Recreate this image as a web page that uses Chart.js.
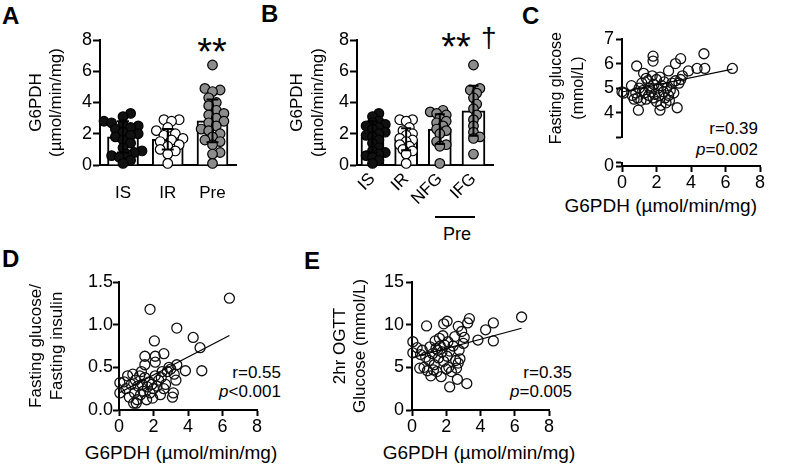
<!DOCTYPE html>
<html>
<head>
<meta charset="utf-8">
<script src="https://cdn.jsdelivr.net/npm/chart.js@4.4.1/dist/chart.umd.min.js"></script>
<style>
  html, body { margin: 0; padding: 0; background: #fff; }
  #fig { position: relative; width: 787px; height: 472px; overflow: hidden;
         font-family: 'Liberation Sans', Arial, Helvetica, sans-serif; color: #000; }
  #fig canvas { position: absolute; }
  .t { position: absolute; white-space: nowrap; line-height: 1; }
  .lbl { font-weight: bold; font-size: 24px; }
  .st { font-size: 17px; text-align: right; }
  .xt { font-size: 19px; }
</style>
</head>
<body>
<div id="fig">
  <div class="t lbl" style="left:2px;top:4px">A</div>
  <div class="t lbl" style="left:261px;top:2px">B</div>
  <div class="t lbl" style="left:522px;top:4px">C</div>
  <div class="t lbl" style="left:2px;top:247px">D</div>
  <div class="t lbl" style="left:304px;top:249px">E</div>

  <div class="t" style="left:180px;width:64px;text-align:center;top:33px;font-size:38px">**</div>
  <div class="t" style="left:424px;width:64px;text-align:center;top:28px;font-size:38px">**</div>
  <div class="t" style="left:481px;top:24px;font-size:28px">†</div>
  <div style="position:absolute;left:435px;top:216px;width:40px;height:2px;background:#000"></div>
  <div class="t" style="left:427px;width:60px;text-align:center;top:225px;font-size:18px">Pre</div>

  <div class="t st" style="right:29px;top:120px">r=0.39</div>
  <div class="t st" style="right:29px;top:141px"><i>p</i>=0.002</div>
  <div class="t st" style="right:506px;top:364px">r=0.55</div>
  <div class="t st" style="right:506px;top:383px"><i>p</i>&lt;0.001</div>
  <div class="t st" style="right:215px;top:364px">r=0.35</div>
  <div class="t st" style="right:215px;top:383px"><i>p</i>=0.005</div>

  <div class="t xt" style="right:30px;top:196px">G6PDH (µmol/min/mg)</div>
  <div class="t xt" style="left:81px;width:200px;text-align:center;top:443px">G6PDH (µmol/min/mg)</div>
  <div class="t xt" style="left:379px;width:200px;text-align:center;top:443px">G6PDH (µmol/min/mg)</div>
</div>

<script>
// group names (panels A, B)
const groupsA = ['IS', 'IR', 'Pre'];
const groupsB = ['IS', 'IR', 'NFG', 'IFG'];

// G6PDH activity (µmol/min/mg) per subject
const isVals  = [3.3, 3.1, 2.8, 2.7, 2.6, 2.5, 2.4, 2.3, 2.1, 2.0, 1.9, 1.8, 1.6, 1.4, 1.1, 0.9, 0.8, 0.7, 0.6, 0.5, 0.3, 0.1];
const irVals  = [2.9, 2.9, 2.8, 2.4, 2.2, 2.0, 1.9, 1.7, 1.6, 1.5, 1.3, 1.2, 1.0, 0.9, 0.7, 0.1];
const preVals = [6.4, 4.9, 4.8, 4.7, 4.3, 4.0, 3.8, 3.5, 3.3, 3.2, 3.0, 2.8, 2.7, 2.5, 2.3, 2.2, 2.0, 1.8, 1.6, 1.5, 1.3, 0.8, 0.7, 0.1];
const nfgVals = [3.5, 3.4, 3.3, 3.2, 3.0, 2.8, 2.7, 2.5, 2.3, 2.2, 2.0, 1.5, 1.3, 1.2, 0.1];
const ifgVals = [6.4, 4.9, 4.8, 4.6, 4.3, 3.9, 3.6, 3.2, 2.9, 2.5, 2.1, 1.8, 1.7, 0.7];

// bar heights (mean) and error bars (SD)
const meanA = [1.8, 1.65, 2.83];
const sdA   = [1.0, 0.65, 1.37];
const meanB = [1.8, 1.65, 2.3, 3.47];
const sdB   = [1.0, 0.7, 0.95, 1.6];
const barTicks = [0, 2, 4, 6, 8];

// panel C: G6PDH vs fasting glucose (mmol/L)
const cX = [6.4, 4.75, 4.8, 4.35, 3.85, 3.4, 3.1, 2.7, 1.8, 1.8, 0.85, 3.2, 0.95, 2.2, 0, 0.55, 0.1,
            0.6, 0.7, 0.8, 0.9, 1.0, 1.1, 1.15, 1.25, 1.3, 1.4, 1.4, 1.5, 1.55, 1.6, 1.7, 1.75, 1.8, 1.85, 1.9, 2.0,
            2.0, 2.1, 2.15, 2.2, 2.25, 2.3, 2.4, 2.45, 2.5, 2.6, 2.7, 2.75, 2.8, 2.9, 3.0, 3.1, 3.3, 3.4, 3.5, 1.2, 2.55];
const cY = [5.8, 6.4, 5.8, 5.8, 5.7, 6.2, 6.0, 5.7, 6.3, 6.1, 5.9, 4.2, 4.1, 4.1, 4.85, 5.1, 4.8,
            4.7, 4.55, 4.8, 4.6, 5.0, 4.5, 5.2, 5.6, 4.8, 5.4, 4.55, 5.3, 4.7, 5.0, 4.85, 5.5, 4.6, 5.15, 4.75, 5.35,
            4.45, 5.0, 4.7, 5.45, 4.3, 5.1, 4.85, 5.25, 4.6, 5.0, 4.7, 4.5, 4.9, 5.2, 4.8, 5.3, 5.2, 5.35, 5.5, 4.9, 4.4];
const cTicksTop = [3, 4, 5, 6, 7];
const cTicksBottom = [0, 1];

// panel D: G6PDH vs fasting glucose / fasting insulin
const dX = [6.4, 1.8, 3.35, 4.3, 4.7, 4.8, 2.05, 1.5, 2.1, 2.6, 2.1, 1.5, 3.85, 3.35, 3.15, 0.05, 0.05, 1.0,
            0.4, 0.5, 0.6, 0.7, 0.8, 0.9, 0.95, 1.05, 1.1, 1.2, 1.25, 1.35, 1.4, 1.5, 1.6, 1.65, 1.75, 1.8, 1.9,
            2.0, 2.1, 2.2, 2.3, 2.4, 2.5, 2.6, 2.7, 2.8, 2.9, 3.0, 3.1, 3.3, 3.2, 0.3, 1.3, 2.45, 1.95, 0.85];
const dY = [1.31, 1.18, 0.96, 0.85, 0.73, 0.46, 0.81, 0.63, 0.63, 0.66, 0.56, 0.53, 0.46, 0.53, 0.2, 0.32, 0.2, 0.08,
            0.25, 0.4, 0.15, 0.3, 0.42, 0.2, 0.35, 0.12, 0.28, 0.4, 0.18, 0.3, 0.22, 0.38, 0.12, 0.27, 0.33, 0.2, 0.3,
            0.25, 0.4, 0.28, 0.35, 0.18, 0.45, 0.25, 0.3, 0.45, 0.5, 0.48, 0.15, 0.35, 0.42, 0.33, 0.45, 0.38, 0.14, 0.08];
const dTicks = [0, 0.5, 1.0, 1.5];

// panel E: G6PDH vs 2hr OGTT glucose (mmol/L)
const eX = [6.4, 4.75, 4.75, 4.3, 3.85, 3.35, 3.25, 2.05, 1.85, 0.85, 3.2, 2.2, 2.65, 0.05, 0.05, 2.7, 2.9, 3.05,
            0.3, 0.5, 0.6, 0.7, 0.8, 0.9, 1.0, 1.05, 1.1, 1.2, 1.3, 1.35, 1.4, 1.45, 1.5, 1.55, 1.6, 1.65, 1.7, 1.75,
            1.8, 1.85, 1.9, 2.0, 2.05, 2.1, 2.15, 2.2, 2.3, 2.4, 2.5, 2.55, 2.6, 2.7, 2.75, 2.8, 3.0, 1.25, 0.45];
const eY = [10.9, 10.2, 8.1, 9.4, 8.2, 10.7, 10.2, 10.4, 10.1, 9.85, 3.1, 2.7, 3.6, 8.0, 6.7, 9.8, 9.2, 8.5,
            7.3, 6.5, 7.0, 5.0, 6.2, 4.6, 5.8, 7.4, 4.0, 6.6, 5.3, 8.1, 7.2, 4.5, 7.0, 6.1, 8.4, 7.5, 3.9, 6.8,
            8.7, 5.7, 7.6, 4.8, 6.3, 8.0, 5.0, 6.9, 4.5, 7.5, 8.6, 5.8, 4.9, 5.5, 7.0, 6.0, 7.8, 4.7, 4.9];
const eTicks = [0, 5, 10, 15];

const g6pdhTicks = [0, 2, 4, 6, 8];

// regression lines [intercept, slope] and x span
const fitC = [4.84, 0.146];
const fitD = [0.2, 0.105];
const fitE = [6.14, 0.537];
const fitSpan = [0, 6.4];

const FONT = "'Liberation Sans', Arial, Helvetica, sans-serif";
Chart.defaults.font.family = FONT;
Chart.defaults.font.size = 17;
Chart.defaults.color = '#000';
Chart.defaults.animation = false;
Chart.defaults.events = [];
Chart.defaults.plugins.legend.display = false;
Chart.defaults.plugins.tooltip.enabled = false;

function makeCanvas(box) {
  const c = document.createElement('canvas');
  c.width = box.w; c.height = box.h;
  c.style.left = box.left + 'px'; c.style.top = box.top + 'px';
  c.style.width = box.w + 'px'; c.style.height = box.h + 'px';
  document.getElementById('fig').appendChild(c);
  return c;
}

// padding + axis sizes so the plot area lands where it should on the page
function frame(box, area, xShown) {
  return {
    padding: { left: 0, top: area.T - box.top, right: box.left + box.w - area.R,
               bottom: xShown ? 0 : box.top + box.h - area.B },
    yw: area.L - box.left,
    xh: box.top + box.h - area.B
  };
}

function yAxis(f, min, max, ticks, fmt, o) {
  return {
    type: 'linear', min, max, offset: false,
    afterFit: s => { s.width = f.yw; },
    afterBuildTicks: s => { s.ticks = ticks.map(v => ({ value: v })); },
    ticks: { callback: fmt, padding: o.pad, autoSkip: false, font: { size: 18 } },
    grid: { drawOnChartArea: false, tickLength: o.tickLen, tickWidth: 2, tickColor: '#000' },
    border: { color: '#000', width: 2 },
    title: { display: !!o.title, text: o.title, padding: { top: o.titlePad || 0, bottom: 0 },
             font: o.titleFont || { size: 17 } }
  };
}

function xAxis(f, min, max, ticks, fmt, o) {
  return {
    type: 'linear', min, max, offset: false, display: o.display !== false,
    afterFit: s => { s.height = f.xh; },
    afterBuildTicks: s => { s.ticks = ticks.map(v => ({ value: v })); },
    ticks: { callback: fmt, padding: o.pad || 0, autoSkip: false, font: { size: o.size || 18 },
             minRotation: o.rot || 0, maxRotation: o.rot || 0 },
    grid: { drawOnChartArea: false, drawTicks: !!o.tickLen, tickLength: o.tickLen || 0,
            tickWidth: 2, tickColor: '#000' },
    border: { color: '#000', width: 2 }
  };
}

// simple beeswarm offsets (in x units) so the dots do not pile up
function swarm(vals, pxX, pxY, d) {
  const placed = [], off = [];
  const idx = vals.map((_, i) => i).sort((a, b) => vals[a] - vals[b]);
  for (const i of idx) {
    const py = vals[i] * pxY;
    for (let k = 0; k < 30; k++) {
      const dx = (k % 2 ? 1 : -1) * Math.ceil(k / 2) * d * 0.4;
      if (placed.every(p => Math.hypot(p.x - dx, p.y - py) >= d * 0.7)) {
        placed.push({ x: dx, y: py });
        off[i] = dx / pxX;
        break;
      }
    }
  }
  return off;
}

function errorBars(means, sds, cap) {
  return {
    id: 'errorBars',
    afterDatasetsDraw(chart) {
      const { ctx, scales: { x, y } } = chart;
      ctx.save();
      ctx.strokeStyle = '#000';
      ctx.lineWidth = 2;
      means.forEach((m, i) => {
        const px = x.getPixelForValue(i);
        const hi = y.getPixelForValue(m + sds[i]);
        const lo = y.getPixelForValue(m - sds[i]);
        ctx.beginPath();
        ctx.moveTo(px, hi); ctx.lineTo(px, lo);
        ctx.moveTo(px - cap, hi); ctx.lineTo(px + cap, hi);
        ctx.moveTo(px - cap, lo); ctx.lineTo(px + cap, lo);
        ctx.stroke();
      });
      ctx.restore();
    }
  };
}

function barPanel(box, area, xr, groups, series, fills, means, sds, o) {
  const f = frame(box, area, true);
  const pxX = (area.R - area.L) / (xr[1] - xr[0]);
  const pxY = (area.B - area.T) / 8;
  const datasets = [{
    type: 'bar', data: means.map((m, i) => ({ x: i, y: m })),
    backgroundColor: '#fff', borderColor: '#000', borderWidth: 2,
    borderSkipped: 'bottom', barThickness: o.barW, order: 3
  }];
  series.forEach((vals, g) => {
    const off = swarm(vals, pxX, pxY, o.dotGap);
    datasets.push({
      type: 'scatter', data: vals.map((v, i) => ({ x: g + off[i], y: v })),
      backgroundColor: fills[g], borderColor: '#000', borderWidth: 1.2,
      pointRadius: 4.8, clip: false, order: 2
    });
  });
  new Chart(makeCanvas(box), {
    type: 'bar',
    data: { datasets },
    options: {
      responsive: false, devicePixelRatio: 1,
      layout: { padding: f.padding },
      scales: {
        x: xAxis(f, xr[0], xr[1], groups.map((_, i) => i), v => groups[v] ?? '',
                 { pad: o.xPad, rot: o.rot, size: 17 }),
        y: yAxis(f, 0, 8, barTicks, v => v,
                 { pad: 1, tickLen: 7, title: ['G6PDH', '(µmol/min/mg)'], titlePad: o.titlePad })
      }
    },
    plugins: [errorBars(means, sds, o.cap)]
  });
}

function scatterSets(xs, ys, fit) {
  return [
    { type: 'scatter', data: xs.map((x, i) => ({ x, y: ys[i] })),
      backgroundColor: 'rgba(0,0,0,0)', borderColor: '#111', borderWidth: 1.3,
      pointRadius: 5, clip: false, order: 2 },
    { type: 'line', data: fitSpan.map(x => ({ x, y: fit[0] + fit[1] * x })),
      borderColor: '#000', borderWidth: 1.2, pointRadius: 0, order: 1 }
  ];
}

// ---- A ----
barPanel({ left: 0, top: 0, w: 250, h: 215 }, { L: 100, T: 40, R: 236, B: 165 },
  [-0.514, 2.525], groupsA, [isVals, irVals, preVals], ['#111', '#fff', '#8c8c8c'],
  meanA, sdA, { barW: 31, cap: 6, xPad: 18, rot: 0, titlePad: 25.8, dotGap: 9.5 });

// ---- B ----
barPanel({ left: 262, top: 0, w: 240, h: 215 }, { L: 357, T: 40, R: 493, B: 165 },
  [-0.46, 3.58], groupsB, [isVals, irVals, nfgVals, ifgVals], ['#111', '#fff', '#8c8c8c', '#8c8c8c'],
  meanB, sdB, { barW: 23, cap: 5, xPad: 4, rot: 45, titlePad: 25.3, dotGap: 8 });

// ---- C (broken y axis: upper and lower part) ----
(function () {
  const box = { left: 515, top: 0, w: 272, h: 150 };
  const f = frame(box, { L: 622, T: 39, R: 760, B: 144 }, false);
  new Chart(makeCanvas(box), {
    type: 'scatter',
    data: { datasets: scatterSets(cX, cY, fitC) },
    options: {
      responsive: false, devicePixelRatio: 1,
      layout: { padding: f.padding },
      scales: {
        x: xAxis(f, 0, 8, g6pdhTicks, v => v, { display: false }),
        y: yAxis(f, 3, 7, cTicksTop, v => (v === 3 ? '' : v),
                 { pad: 2, tickLen: 6, title: ['Fasting glucose', '(mmol/L)'], titlePad: 31.2,
                   titleFont: { size: 16, lineHeight: 1.35 } })
      }
    }
  });
  const box2 = { left: 515, top: 150, w: 272, h: 72 };
  const f2 = frame(box2, { L: 622, T: 153, R: 760, B: 166 }, true);
  new Chart(makeCanvas(box2), {
    type: 'scatter',
    data: { datasets: [] },
    options: {
      responsive: false, devicePixelRatio: 1,
      layout: { padding: f2.padding },
      scales: {
        x: xAxis(f2, 0, 8, g6pdhTicks, v => v, { tickLen: 6, pad: 0 }),
        y: yAxis(f2, 0, 1, cTicksBottom, v => (v === 0 ? '0' : ''), { pad: 2, tickLen: 6 })
      }
    }
  });
})();

// ---- D ----
(function () {
  const box = { left: 0, top: 240, w: 290, h: 232 };
  const f = frame(box, { L: 119, T: 282, R: 257, B: 410 }, true);
  new Chart(makeCanvas(box), {
    type: 'scatter',
    data: { datasets: scatterSets(dX, dY, fitD) },
    options: {
      responsive: false, devicePixelRatio: 1,
      layout: { padding: f.padding },
      scales: {
        x: xAxis(f, 0, 8, g6pdhTicks, v => v, { tickLen: 6, pad: 0 }),
        y: yAxis(f, 0, 1.5, dTicks, v => v.toFixed(1),
                 { pad: 0, tickLen: 6, title: ['Fasting glucose/', 'Fasting insulin'], titlePad: 26.3 })
      }
    }
  });
})();

// ---- E ----
(function () {
  const box = { left: 300, top: 240, w: 287, h: 232 };
  const f = frame(box, { L: 412, T: 282, R: 549, B: 410 }, true);
  new Chart(makeCanvas(box), {
    type: 'scatter',
    data: { datasets: scatterSets(eX, eY, fitE) },
    options: {
      responsive: false, devicePixelRatio: 1,
      layout: { padding: f.padding },
      scales: {
        x: xAxis(f, 0, 8, g6pdhTicks, v => v, { tickLen: 6, pad: 0 }),
        y: yAxis(f, 0, 15, eTicks, v => v,
                 { pad: 2, tickLen: 6, title: ['2hr OGTT', 'Glucose (mmol/L)'], titlePad: 29.8 })
      }
    }
  });
})();
</script>
</body>
</html>
